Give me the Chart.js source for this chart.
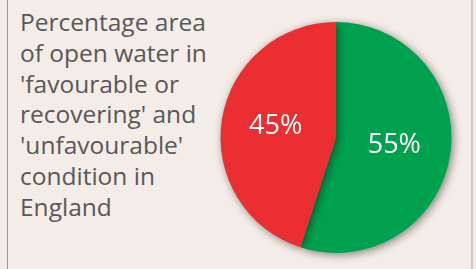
<!DOCTYPE html>
<html>
<head>
<meta charset="utf-8">
<script src="https://cdn.jsdelivr.net/npm/chart.js@4"></script>
<style>
  html, body { margin: 0; padding: 0; }
  body { width: 476px; height: 269px; background: #f4ece6; position: relative; overflow: hidden; }
  #frame { position: absolute; left: 7px; top: 0; width: 463px; height: 269px;
           border-left: 1px solid #9a9794; border-right: 2px solid #cbc7c3; }
  #titulo { position: absolute; left: 20px; top: 7px; width: 210px;
            font-family: 'Open Sans', sans-serif; font-size: 24.5px; line-height: 30.8px;
            color: #58585a; }
  #wrap { position: absolute; left: 0; top: 0; width: 476px; height: 269px; }
</style>
</head>
<body>
<div id="frame"></div>
<div id="titulo">Percentage area<br>of open water in<br>'favourable or<br>recovering' and<br>'unfavourable'<br>condition in<br>England</div>
<div id="wrap"><canvas id="grafico"></canvas></div>
<script>
const categorias = ['favourable or recovering', 'unfavourable'];
const valores = [55, 45];
const etiquetas = ['55%', '45%'];
const colores = ['#00a14e', '#ea2e31'];

// sombra suave alrededor del pastel
const sombra = {
  id: 'sombra',
  beforeDatasetsDraw(chart) {
    const c = chart.ctx;
    c.save();
    c.shadowColor = 'rgba(0,0,0,0.45)';
    c.shadowBlur = 9;
    c.shadowOffsetX = 2;
    c.shadowOffsetY = 2;
  },
  afterDatasetsDraw(chart) {
    chart.ctx.restore();
  }
};

// etiquetas blancas dentro de cada porción
const textos = {
  id: 'textos',
  afterDatasetsDraw(chart) {
    const c = chart.ctx;
    const meta = chart.getDatasetMeta(0);
    c.save();
    c.fillStyle = '#ffffff';
    c.font = '27px "Open Sans", sans-serif';
    c.textAlign = 'center';
    c.textBaseline = 'middle';
    meta.data.forEach((arc, i) => {
      const p = arc.getProps(['x', 'y', 'startAngle', 'endAngle', 'outerRadius'], true);
      const mid = (p.startAngle + p.endAngle) / 2;
      const r = p.outerRadius * 0.52;
      c.fillText(etiquetas[i], p.x + Math.cos(mid) * r - 1, p.y + Math.sin(mid) * r - 2);
    });
    c.restore();
  }
};

const ctx = document.getElementById('grafico').getContext('2d');
const grafico = new Chart(ctx, {
  type: 'pie',
  data: {
    labels: categorias,
    datasets: [{
      data: valores,
      backgroundColor: colores,
      borderWidth: 0
    }]
  },
  options: {
    responsive: true,
    maintainAspectRatio: false,
    animation: false,
    layout: { padding: { left: 220, right: 24, top: 22, bottom: 16 } },
    plugins: {
      legend: { display: false },
      tooltip: { enabled: false }
    }
  },
  plugins: [sombra, textos]
});
</script>
</body>
</html>
